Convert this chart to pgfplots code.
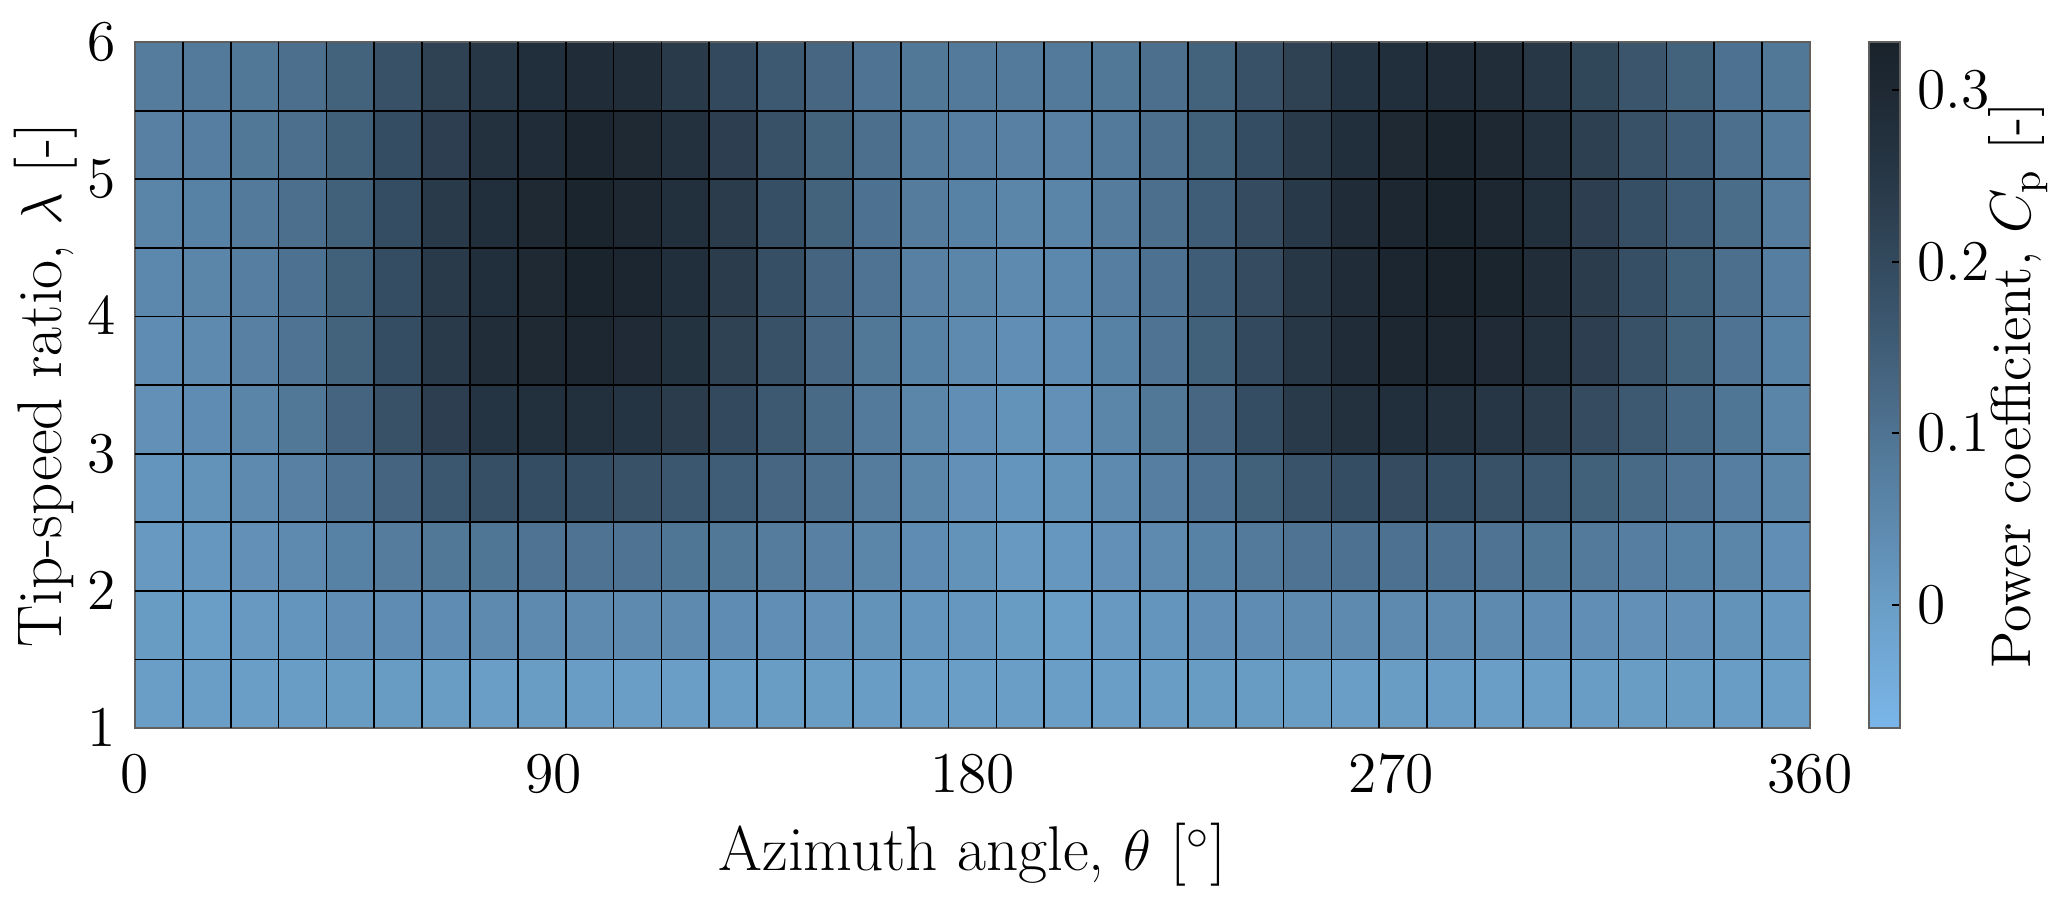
\documentclass[border=0pt]{standalone}
\usepackage{pgfplots}
\pgfplotsset{compat=1.18}
\usepackage{pgfplotstable}

\definecolor{framegray}{RGB}{95,95,95}

% Cp over 35 azimuth cells (x = cell centre index, 360/35 deg each)
% and 10 tip-speed-ratio cells (y = lambda at cell centre)
\pgfplotstableread[row sep=\\]{
x y c\\
0.5 1.25 0.000\\ 1.5 1.25 0.000\\ 2.5 1.25 0.000\\ 3.5 1.25 0.002\\ 4.5 1.25 0.005\\ 5.5 1.25 0.005\\ 6.5 1.25 0.003\\ 7.5 1.25 0.000\\ 8.5 1.25 0.003\\ 9.5 1.25 0.002\\
10.5 1.25 0.000\\ 11.5 1.25 0.000\\ 12.5 1.25 0.002\\ 13.5 1.25 0.003\\ 14.5 1.25 0.003\\ 15.5 1.25 0.002\\ 16.5 1.25 0.000\\ 17.5 1.25 0.000\\ 18.5 1.25 0.000\\ 19.5 1.25 0.000\\
20.5 1.25 0.000\\ 21.5 1.25 0.002\\ 22.5 1.25 0.005\\ 23.5 1.25 0.005\\ 24.5 1.25 0.003\\ 25.5 1.25 0.000\\ 26.5 1.25 0.003\\ 27.5 1.25 0.002\\ 28.5 1.25 0.000\\ 29.5 1.25 0.000\\
30.5 1.25 0.002\\ 31.5 1.25 0.003\\ 32.5 1.25 0.003\\ 33.5 1.25 0.002\\ 34.5 1.25 0.000\\
0.5 1.75 0.005\\ 1.5 1.75 0.000\\ 2.5 1.75 0.010\\ 3.5 1.75 0.020\\ 4.5 1.75 0.035\\ 5.5 1.75 0.040\\ 6.5 1.75 0.040\\ 7.5 1.75 0.045\\ 8.5 1.75 0.045\\ 9.5 1.75 0.045\\
10.5 1.75 0.045\\ 11.5 1.75 0.045\\ 12.5 1.75 0.040\\ 13.5 1.75 0.035\\ 14.5 1.75 0.030\\ 15.5 1.75 0.025\\ 16.5 1.75 0.020\\ 17.5 1.75 0.015\\ 18.5 1.75 0.005\\ 19.5 1.75 0.000\\
20.5 1.75 0.010\\ 21.5 1.75 0.020\\ 22.5 1.75 0.035\\ 23.5 1.75 0.040\\ 24.5 1.75 0.045\\ 25.5 1.75 0.045\\ 26.5 1.75 0.045\\ 27.5 1.75 0.045\\ 28.5 1.75 0.045\\ 29.5 1.75 0.040\\
30.5 1.75 0.035\\ 31.5 1.75 0.030\\ 32.5 1.75 0.030\\ 33.5 1.75 0.025\\ 34.5 1.75 0.015\\
0.5 2.25 0.010\\ 1.5 2.25 0.015\\ 2.5 2.25 0.030\\ 3.5 2.25 0.045\\ 4.5 2.25 0.065\\ 5.5 2.25 0.080\\ 6.5 2.25 0.090\\ 7.5 2.25 0.095\\ 8.5 2.25 0.100\\ 9.5 2.25 0.100\\
10.5 2.25 0.100\\ 11.5 2.25 0.095\\ 12.5 2.25 0.090\\ 13.5 2.25 0.080\\ 14.5 2.25 0.070\\ 15.5 2.25 0.055\\ 16.5 2.25 0.040\\ 17.5 2.25 0.025\\ 18.5 2.25 0.010\\ 19.5 2.25 0.015\\
20.5 2.25 0.030\\ 21.5 2.25 0.045\\ 22.5 2.25 0.065\\ 23.5 2.25 0.085\\ 24.5 2.25 0.100\\ 25.5 2.25 0.105\\ 26.5 2.25 0.105\\ 27.5 2.25 0.105\\ 28.5 2.25 0.100\\ 29.5 2.25 0.095\\
30.5 2.25 0.085\\ 31.5 2.25 0.075\\ 32.5 2.25 0.065\\ 33.5 2.25 0.055\\ 34.5 2.25 0.035\\
0.5 2.75 0.020\\ 1.5 2.75 0.025\\ 2.5 2.75 0.045\\ 3.5 2.75 0.070\\ 4.5 2.75 0.100\\ 5.5 2.75 0.135\\ 6.5 2.75 0.165\\ 7.5 2.75 0.185\\ 8.5 2.75 0.190\\ 9.5 2.75 0.190\\
10.5 2.75 0.180\\ 11.5 2.75 0.165\\ 12.5 2.75 0.150\\ 13.5 2.75 0.130\\ 14.5 2.75 0.110\\ 15.5 2.75 0.080\\ 16.5 2.75 0.055\\ 17.5 2.75 0.030\\ 18.5 2.75 0.020\\ 19.5 2.75 0.025\\
20.5 2.75 0.045\\ 21.5 2.75 0.075\\ 22.5 2.75 0.105\\ 23.5 2.75 0.145\\ 24.5 2.75 0.175\\ 25.5 2.75 0.190\\ 26.5 2.75 0.195\\ 27.5 2.75 0.190\\ 28.5 2.75 0.180\\ 29.5 2.75 0.165\\
30.5 2.75 0.145\\ 31.5 2.75 0.120\\ 32.5 2.75 0.100\\ 33.5 2.75 0.075\\ 34.5 2.75 0.055\\
0.5 3.25 0.030\\ 1.5 3.25 0.040\\ 2.5 3.25 0.060\\ 3.5 3.25 0.090\\ 4.5 3.25 0.135\\ 5.5 3.25 0.180\\ 6.5 3.25 0.230\\ 7.5 3.25 0.260\\ 8.5 3.25 0.275\\ 9.5 3.25 0.275\\
10.5 3.25 0.260\\ 11.5 3.25 0.235\\ 12.5 3.25 0.200\\ 13.5 3.25 0.160\\ 14.5 3.25 0.120\\ 15.5 3.25 0.085\\ 16.5 3.25 0.055\\ 17.5 3.25 0.035\\ 18.5 3.25 0.025\\ 19.5 3.25 0.030\\
20.5 3.25 0.055\\ 21.5 3.25 0.090\\ 22.5 3.25 0.130\\ 23.5 3.25 0.190\\ 24.5 3.25 0.240\\ 25.5 3.25 0.270\\ 26.5 3.25 0.280\\ 27.5 3.25 0.270\\ 28.5 3.25 0.255\\ 29.5 3.25 0.235\\
30.5 3.25 0.195\\ 31.5 3.25 0.160\\ 32.5 3.25 0.125\\ 33.5 3.25 0.095\\ 34.5 3.25 0.060\\
0.5 3.75 0.040\\ 1.5 3.75 0.045\\ 2.5 3.75 0.070\\ 3.5 3.75 0.100\\ 4.5 3.75 0.140\\ 5.5 3.75 0.190\\ 6.5 3.75 0.240\\ 7.5 3.75 0.285\\ 8.5 3.75 0.300\\ 9.5 3.75 0.310\\
10.5 3.75 0.295\\ 11.5 3.75 0.265\\ 12.5 3.75 0.220\\ 13.5 3.75 0.180\\ 14.5 3.75 0.130\\ 15.5 3.75 0.090\\ 16.5 3.75 0.065\\ 17.5 3.75 0.045\\ 18.5 3.75 0.035\\ 19.5 3.75 0.040\\
20.5 3.75 0.065\\ 21.5 3.75 0.100\\ 22.5 3.75 0.145\\ 23.5 3.75 0.200\\ 24.5 3.75 0.250\\ 25.5 3.75 0.290\\ 26.5 3.75 0.310\\ 27.5 3.75 0.310\\ 28.5 3.75 0.295\\ 29.5 3.75 0.270\\
30.5 3.75 0.230\\ 31.5 3.75 0.180\\ 32.5 3.75 0.140\\ 33.5 3.75 0.100\\ 34.5 3.75 0.065\\
0.5 4.25 0.050\\ 1.5 4.25 0.055\\ 2.5 4.25 0.075\\ 3.5 4.25 0.105\\ 4.5 4.25 0.145\\ 5.5 4.25 0.190\\ 6.5 4.25 0.240\\ 7.5 4.25 0.280\\ 8.5 4.25 0.300\\ 9.5 4.25 0.325\\
10.5 4.25 0.315\\ 11.5 4.25 0.280\\ 12.5 4.25 0.235\\ 13.5 4.25 0.185\\ 14.5 4.25 0.135\\ 15.5 4.25 0.100\\ 16.5 4.25 0.070\\ 17.5 4.25 0.055\\ 18.5 4.25 0.045\\ 19.5 4.25 0.050\\
20.5 4.25 0.075\\ 21.5 4.25 0.105\\ 22.5 4.25 0.150\\ 23.5 4.25 0.195\\ 24.5 4.25 0.250\\ 25.5 4.25 0.290\\ 26.5 4.25 0.315\\ 27.5 4.25 0.330\\ 28.5 4.25 0.320\\ 29.5 4.25 0.285\\
30.5 4.25 0.235\\ 31.5 4.25 0.185\\ 32.5 4.25 0.145\\ 33.5 4.25 0.110\\ 34.5 4.25 0.075\\
0.5 4.75 0.060\\ 1.5 4.75 0.065\\ 2.5 4.75 0.085\\ 3.5 4.75 0.110\\ 4.5 4.75 0.145\\ 5.5 4.75 0.190\\ 6.5 4.75 0.240\\ 7.5 4.75 0.280\\ 8.5 4.75 0.300\\ 9.5 4.75 0.320\\
10.5 4.75 0.305\\ 11.5 4.75 0.275\\ 12.5 4.75 0.235\\ 13.5 4.75 0.185\\ 14.5 4.75 0.140\\ 15.5 4.75 0.105\\ 16.5 4.75 0.080\\ 17.5 4.75 0.065\\ 18.5 4.75 0.055\\ 19.5 4.75 0.060\\
20.5 4.75 0.080\\ 21.5 4.75 0.110\\ 22.5 4.75 0.150\\ 23.5 4.75 0.195\\ 24.5 4.75 0.245\\ 25.5 4.75 0.290\\ 26.5 4.75 0.310\\ 27.5 4.75 0.325\\ 28.5 4.75 0.310\\ 29.5 4.75 0.275\\
30.5 4.75 0.230\\ 31.5 4.75 0.185\\ 32.5 4.75 0.150\\ 33.5 4.75 0.115\\ 34.5 4.75 0.080\\
0.5 5.25 0.070\\ 1.5 5.25 0.075\\ 2.5 5.25 0.090\\ 3.5 5.25 0.110\\ 4.5 5.25 0.145\\ 5.5 5.25 0.190\\ 6.5 5.25 0.230\\ 7.5 5.25 0.270\\ 8.5 5.25 0.290\\ 9.5 5.25 0.315\\
10.5 5.25 0.300\\ 11.5 5.25 0.270\\ 12.5 5.25 0.230\\ 13.5 5.25 0.180\\ 14.5 5.25 0.140\\ 15.5 5.25 0.110\\ 16.5 5.25 0.085\\ 17.5 5.25 0.075\\ 18.5 5.25 0.070\\ 19.5 5.25 0.070\\
20.5 5.25 0.085\\ 21.5 5.25 0.110\\ 22.5 5.25 0.145\\ 23.5 5.25 0.190\\ 24.5 5.25 0.240\\ 25.5 5.25 0.280\\ 26.5 5.25 0.300\\ 27.5 5.25 0.320\\ 28.5 5.25 0.305\\ 29.5 5.25 0.270\\
30.5 5.25 0.225\\ 31.5 5.25 0.180\\ 32.5 5.25 0.150\\ 33.5 5.25 0.110\\ 34.5 5.25 0.085\\
0.5 5.75 0.080\\ 1.5 5.75 0.085\\ 2.5 5.75 0.090\\ 3.5 5.75 0.110\\ 4.5 5.75 0.140\\ 5.5 5.75 0.180\\ 6.5 5.75 0.220\\ 7.5 5.75 0.250\\ 8.5 5.75 0.280\\ 9.5 5.75 0.290\\
10.5 5.75 0.285\\ 11.5 5.75 0.240\\ 12.5 5.75 0.200\\ 13.5 5.75 0.160\\ 14.5 5.75 0.130\\ 15.5 5.75 0.100\\ 16.5 5.75 0.090\\ 17.5 5.75 0.085\\ 18.5 5.75 0.085\\ 19.5 5.75 0.085\\
20.5 5.75 0.090\\ 21.5 5.75 0.110\\ 22.5 5.75 0.140\\ 23.5 5.75 0.180\\ 24.5 5.75 0.220\\ 25.5 5.75 0.260\\ 26.5 5.75 0.280\\ 27.5 5.75 0.290\\ 28.5 5.75 0.285\\ 29.5 5.75 0.250\\
30.5 5.75 0.210\\ 31.5 5.75 0.170\\ 32.5 5.75 0.140\\ 33.5 5.75 0.105\\ 34.5 5.75 0.090\\
}\cpdata

\begin{document}
\begin{tikzpicture}
\begin{axis}[
  at={(0,0)}, anchor=south west,
  scale only axis, width=418.75pt, height=171.5pt,
  xmin=0, xmax=35, ymin=1, ymax=6,
  axis on top,
  xtick={0,8.75,17.5,26.25,35}, xticklabels={0,90,180,270,360},
  ytick={1,2,3,4,5,6},
  major tick length=0pt,
  extra x ticks={1,2,...,34}, extra x tick labels={},
  extra y ticks={1.5,2,...,5.5}, extra y tick labels={},
  extra tick style={grid=major, major tick length=0pt},
  major grid style={black, line width=0.45pt},
  axis line style={framegray, line width=0.6pt},
  every tick label/.style={font=\fontsize{14.4}{17}\selectfont},
  every x tick label/.style={anchor=base, inner sep=0pt, yshift=-16pt},
  every y tick label/.style={anchor=east, inner sep=0pt, xshift=-4.5pt},
  xlabel={Azimuth angle, $\theta$ [$^\circ$]},
  ylabel={Tip-speed ratio, $\lambda$ [-]},
  every axis x label/.style={at={(axis description cs:0.5,0)}, anchor=base, yshift=-35.5pt, font=\fontsize{15.8}{19}\selectfont},
  every axis y label/.style={at={(axis description cs:0,0.5)}, xshift=-18.25pt, rotate=90, anchor=base, font=\fontsize{15.8}{19}\selectfont},
  colormap={cp}{rgb255(0pt)=(122,182,234); rgb255(72pt)=(106,158,198); rgb255(112pt)=(95,140,178); rgb255(162pt)=(82,120,152); rgb255(202pt)=(70,102,130); rgb255(242pt)=(58,85,108); rgb255(292pt)=(46,66,84); rgb255(332pt)=(37,52,66); rgb255(372pt)=(30,41,52); rgb255(400pt)=(26,35,44)},
  point meta min=-0.072, point meta max=0.328,
  colorbar,
  colorbar style={
    at={(parent axis.north east)}, anchor=north west, xshift=6.2pt,
    width=7.75pt,
    extra x ticks={}, extra y ticks={},
    axis line style={framegray, line width=0.5pt},
    ytick={0,0.1,0.2,0.3},
    ytick pos=right,
    ytick align=inside,
    major tick length=2pt,
    tick style={black, line width=0.5pt},
    every y tick label/.style={anchor=west, inner sep=0pt, xshift=4.25pt},
    yticklabel style={/pgf/number format/fixed},
    ylabel={Power coefficient, $C_\mathrm{p}$ [-]},
    every axis y label/.style={at={(axis description cs:1,0.5)}, xshift=32.75pt, rotate=90, anchor=base, font=\fontsize{14}{17}\selectfont},
  },
]
\addplot[matrix plot*, mesh/cols=35, point meta=explicit] table[x=x, y=y, meta=c] {\cpdata};
\end{axis}
\pgfresetboundingbox
\path[use as bounding box] (-33.75pt,-43.75pt) rectangle (483pt,182pt);
\end{tikzpicture}
\end{document}
